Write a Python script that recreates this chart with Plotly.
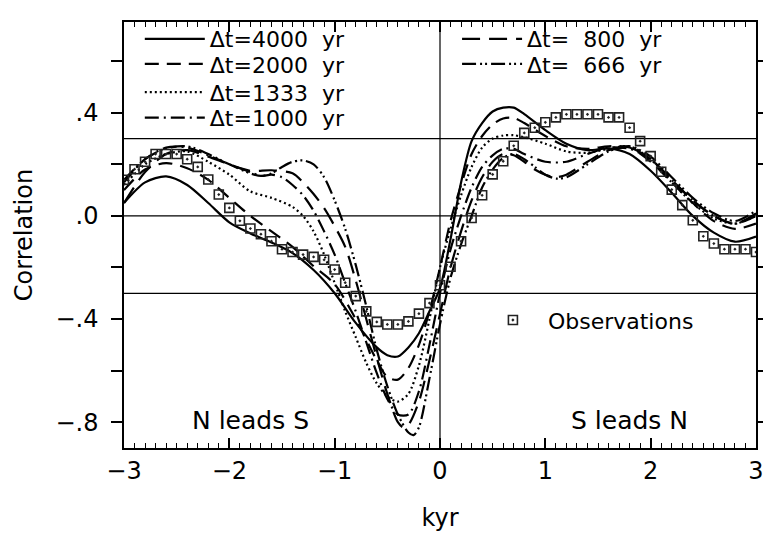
import plotly.graph_objects as go

# ---------------- data ----------------
x4000 = [-3.0,-2.8,-2.6,-2.4,-2.2,-2.0,-1.8,-1.6,-1.4,-1.2,-1.0,-0.8,-0.6,-0.5,-0.4,-0.3,-0.2,-0.1,0.0,0.1,0.2,0.3,0.4,0.5,0.6,0.7,0.8,1.0,1.2,1.4,1.6,1.8,2.0,2.2,2.4,2.6,2.8,3.0]
y4000 = [0.05,0.13,0.153,0.12,0.05,-0.025,-0.068,-0.103,-0.144,-0.21,-0.30,-0.415,-0.51,-0.54,-0.545,-0.51,-0.455,-0.37,-0.28,-0.09,0.13,0.29,0.36,0.405,0.42,0.42,0.395,0.333,0.28,0.255,0.262,0.24,0.175,0.09,0.0,-0.065,-0.10,-0.08]

x2000 = [-3.0,-2.8,-2.6,-2.4,-2.2,-2.0,-1.8,-1.6,-1.4,-1.2,-1.0,-0.8,-0.6,-0.5,-0.4,-0.3,-0.2,-0.1,0.0,0.1,0.2,0.3,0.4,0.5,0.6,0.7,0.8,1.0,1.2,1.4,1.6,1.8,2.0,2.2,2.4,2.6,2.8,3.0]
y2000 = [0.10,0.18,0.205,0.185,0.14,0.07,0.0,-0.06,-0.12,-0.195,-0.265,-0.40,-0.56,-0.625,-0.635,-0.59,-0.50,-0.37,-0.20,-0.02,0.12,0.24,0.31,0.355,0.378,0.38,0.36,0.31,0.27,0.26,0.27,0.265,0.21,0.13,0.05,-0.02,-0.05,-0.03]

x1333 = [-3.0,-2.8,-2.6,-2.4,-2.2,-2.0,-1.8,-1.6,-1.4,-1.3,-1.2,-1.1,-1.0,-0.9,-0.8,-0.7,-0.6,-0.5,-0.4,-0.3,-0.2,-0.1,0.0,0.1,0.2,0.3,0.4,0.5,0.6,0.7,0.8,1.0,1.2,1.4,1.6,1.8,2.0,2.2,2.4,2.6,2.8,3.0]
y1333 = [0.12,0.20,0.24,0.25,0.21,0.16,0.095,0.07,0.035,0.0,-0.06,-0.15,-0.26,-0.37,-0.47,-0.57,-0.65,-0.70,-0.72,-0.69,-0.58,-0.40,-0.20,-0.05,0.08,0.19,0.265,0.30,0.312,0.313,0.305,0.28,0.25,0.245,0.26,0.27,0.22,0.13,0.05,-0.01,-0.03,0.0]

x1000 = [-3.0,-2.8,-2.6,-2.4,-2.2,-2.0,-1.8,-1.7,-1.6,-1.5,-1.4,-1.3,-1.2,-1.1,-1.0,-0.9,-0.8,-0.7,-0.6,-0.5,-0.4,-0.3,-0.2,-0.1,0.0,0.1,0.2,0.3,0.4,0.5,0.6,0.7,0.8,1.0,1.2,1.4,1.6,1.8,2.0,2.2,2.4,2.6,2.8,3.0]
y1000 = [0.13,0.22,0.265,0.265,0.235,0.20,0.17,0.155,0.16,0.15,0.12,0.08,0.02,-0.06,-0.15,-0.26,-0.37,-0.49,-0.61,-0.71,-0.77,-0.77,-0.68,-0.50,-0.30,-0.13,0.0,0.11,0.19,0.235,0.26,0.26,0.24,0.21,0.21,0.24,0.265,0.26,0.22,0.14,0.06,0.0,-0.03,0.0]

x800 = [-3.0,-2.8,-2.6,-2.4,-2.2,-2.0,-1.8,-1.6,-1.4,-1.3,-1.2,-1.1,-1.0,-0.9,-0.8,-0.7,-0.6,-0.5,-0.4,-0.35,-0.3,-0.2,-0.1,0.0,0.1,0.2,0.3,0.4,0.5,0.6,0.7,0.8,0.9,1.0,1.1,1.2,1.4,1.6,1.8,2.0,2.2,2.4,2.6,2.8,3.0]
y800 = [0.05,0.17,0.24,0.255,0.23,0.20,0.175,0.177,0.165,0.13,0.085,0.03,-0.04,-0.12,-0.25,-0.40,-0.55,-0.69,-0.80,-0.82,-0.81,-0.72,-0.56,-0.38,-0.20,-0.06,0.06,0.15,0.21,0.24,0.235,0.21,0.18,0.16,0.15,0.16,0.21,0.255,0.265,0.22,0.14,0.06,0.0,-0.03,0.01]

x666 = [-3.0,-2.8,-2.6,-2.4,-2.2,-2.0,-1.8,-1.7,-1.6,-1.5,-1.4,-1.3,-1.2,-1.1,-1.0,-0.9,-0.8,-0.7,-0.6,-0.5,-0.4,-0.3,-0.25,-0.2,-0.1,0.0,0.1,0.2,0.3,0.4,0.5,0.6,0.7,0.8,0.9,1.0,1.1,1.2,1.4,1.6,1.8,2.0,2.2,2.4,2.6,2.8,3.0]
y666 = [0.14,0.22,0.262,0.27,0.24,0.20,0.165,0.155,0.165,0.19,0.21,0.215,0.20,0.15,0.06,-0.05,-0.19,-0.35,-0.52,-0.66,-0.77,-0.84,-0.85,-0.82,-0.63,-0.42,-0.24,-0.11,0.0,0.11,0.18,0.225,0.24,0.22,0.19,0.16,0.145,0.15,0.20,0.25,0.27,0.23,0.15,0.07,0.01,-0.02,0.02]

obs_x = [-3.0,-2.9,-2.8,-2.7,-2.6,-2.5,-2.4,-2.3,-2.2,-2.1,-2.0,-1.9,-1.8,-1.7,-1.6,-1.5,-1.4,-1.3,-1.2,-1.1,
         -1.0,-0.9,-0.8,-0.7,-0.6,-0.5,-0.4,-0.3,-0.2,-0.1,0.0,0.1,0.2,0.3,0.4,0.5,0.6,0.7,0.8,0.9,
         1.0,1.1,1.2,1.3,1.4,1.5,1.6,1.7,1.8,1.9,2.0,2.1,2.2,2.3,2.4,2.5,2.6,2.7,2.8,2.9,3.0]
obs_y = [0.14,0.181,0.21,0.24,0.24,0.24,0.22,0.19,0.141,0.083,0.031,-0.019,-0.049,-0.071,-0.098,-0.129,-0.14,-0.15,-0.159,-0.17,
         -0.208,-0.259,-0.311,-0.37,-0.411,-0.421,-0.421,-0.409,-0.379,-0.338,-0.269,-0.197,-0.098,-0.008,0.08,0.161,0.212,0.272,0.322,0.342,
         0.363,0.382,0.394,0.394,0.394,0.394,0.382,0.382,0.342,0.29,0.232,0.171,0.102,0.042,-0.017,-0.079,-0.107,-0.129,-0.129,-0.129,-0.14]

y_tickvals = [0.6,0.4,0.2,0.0,-0.2,-0.4,-0.6,-0.8]
y_ticktext = ["",".4","",".0","","\u2212.4","","\u2212.8"]
ref_lines_y = [0.3, 0.0, -0.3]

FONT = "DejaVu Sans"
FS = 24
LFS = 22

fig = go.Figure()

# (x, y, label, dash, legend id, legend paper x, legend paper y)
series = [
    (x4000, y4000, "\u0394t=4000\u00a0 yr", "solid", "legend", 0.025, 0.960),
    (x2000, y2000, "\u0394t=2000\u00a0 yr", "14px,8px", "legend2", 0.025, 0.901),
    (x1333, y1333, "\u0394t=1333\u00a0 yr", "2px,3px", "legend3", 0.025, 0.835),
    (x1000, y1000, "\u0394t=1000\u00a0 yr", "14px,5px,2px,5px", "legend4", 0.025, 0.775),
    (x800, y800, "\u0394t=\u2007800\u00a0 yr", "18px,9px", "legend5", 0.527, 0.960),
    (x666, y666, "\u0394t=\u2007666\u00a0 yr", "14px,4px,2px,3px,2px,4px", "legend6", 0.527, 0.901),
]
legend_common = dict(bgcolor="rgba(0,0,0,0)", borderwidth=0, itemwidth=60,
                     font=dict(family=FONT, size=LFS, color="black"),
                     xanchor="left", yanchor="middle")
legends = {}
for xs, ys, name, dash, lg, lx, ly in series:
    fig.add_trace(go.Scatter(x=xs, y=ys, mode="lines", name=name, legend=lg, showlegend=True,
                             line=dict(color="black", width=2.2, dash=dash, shape="spline", smoothing=0.8)))
    legends[lg] = dict(x=lx, y=ly, **legend_common)

fig.add_trace(go.Scatter(x=obs_x, y=obs_y, mode="markers", name="Observations", legend="legend7",
                         showlegend=True,
                         marker=dict(symbol="square-open-dot", size=9, color="#222",
                                     line=dict(width=1.6, color="#222"))))
legends["legend7"] = dict(x=0.560, y=0.300, **legend_common)

for yv in ref_lines_y:
    fig.add_hline(y=yv, line=dict(color="black", width=1.2), layer="below")
fig.add_vline(x=0, line=dict(color="black", width=1.2), layer="below")

fig.add_annotation(x=-1.8, y=-0.795, text="N leads S", showarrow=False,
                   font=dict(family=FONT, size=25, color="black"))
fig.add_annotation(x=1.8, y=-0.795, text="S leads N", showarrow=False,
                   font=dict(family=FONT, size=25, color="black"))

fig.update_layout(
    width=763, height=538,
    margin=dict(l=124, r=7, t=22, b=90),
    showlegend=True,
    paper_bgcolor="white", plot_bgcolor="white",
    font=dict(family=FONT, size=FS, color="black"),
    xaxis=dict(range=[-3, 3.00001], tickmode="linear", tick0=-3, dtick=1,
               ticks="inside", ticklen=10, tickwidth=1.5, tickcolor="black",
               minor=dict(dtick=0.1, tick0=-3, ticks="inside", ticklen=5, tickwidth=1.2,
                          tickcolor="black", showgrid=False),
               showline=True, linecolor="black", linewidth=1.5, mirror="ticks",
               showgrid=False, zeroline=False, automargin=False, layer="above traces",
               ticklabelstandoff=0, ticklabeloverflow="allow",
               title=dict(text="kyr", standoff=26, font=dict(family=FONT, size=FS))),
    xaxis2=dict(range=[-3, 3.00001], overlaying="x", anchor="y", side="bottom", tickmode="linear",
                tick0=-2.5, dtick=1,
                ticks="inside", ticklen=10, tickwidth=1.5, tickcolor="black",
                showline=True, linecolor="black", linewidth=1.5, mirror="ticks",
                showticklabels=False, showgrid=False, zeroline=False, automargin=False),
    yaxis=dict(range=[-0.9, 0.752], tickvals=y_tickvals, ticktext=y_ticktext,
               ticks="outside", ticklen=11, tickwidth=1.5, tickcolor="black",
               showline=True, linecolor="black", linewidth=1.5, mirror="ticks",
               showgrid=False, zeroline=False, automargin=False,
               ticklabelstandoff=8,
               title=dict(text="Correlation", standoff=16, font=dict(family=FONT, size=FS))),
    **legends,
)

fig.write_html("out.html")
